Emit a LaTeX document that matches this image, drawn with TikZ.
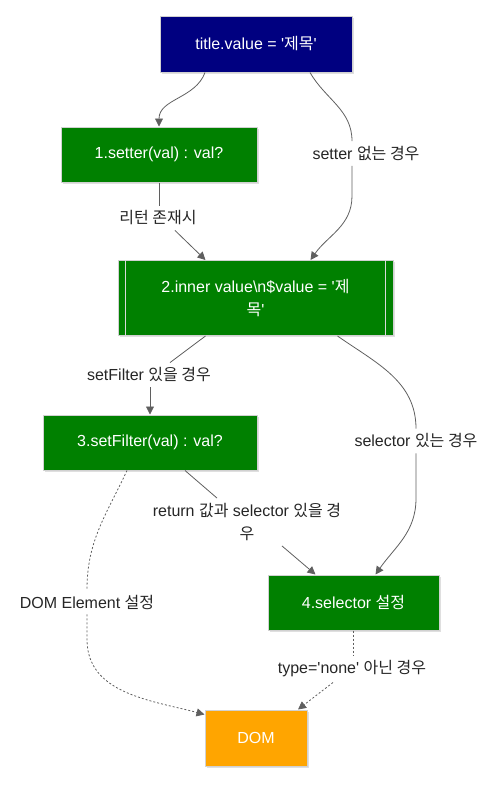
\documentclass[tikz,border=0pt]{standalone}
\usepackage{fontspec}
\setmainfont{Liberation Sans}[Ligatures=TeXOff]
\newfontfamily\kr{Noto Sans CJK KR}
\usetikzlibrary{arrows.meta}
\usetikzlibrary{shadows}
\definecolor{titleblue}{RGB}{0,0,128}
\definecolor{stepgreen}{RGB}{0,128,0}
\definecolor{domorange}{RGB}{255,165,0}
\definecolor{linkgray}{RGB}{95,95,95}

\begin{document}
\begin{tikzpicture}[x=1pt, y=1pt,
    every node/.style={font=\fontsize{16}{23}\selectfont},
    box/.style={draw=black!18, line width=1pt, text=white, minimum height=55pt,
      align=center, drop shadow={opacity=0.25, shadow xshift=1.5pt, shadow yshift=-1.5pt}},
    lbl/.style={fill=white, text=black!85, inner xsep=3pt, inner ysep=5pt, align=center},
    seg/.style={draw=linkgray, line width=0.8pt},
    link/.style={seg, -{Triangle[length=8pt, width=8pt]}},
    dotseg/.style={seg, dash pattern=on 2pt off 2pt},
    dotlink/.style={dotseg, -{Triangle[length=8pt, width=8pt]}}]
    \useasboundingbox (0, 0) rectangle (500, -785);

    \node[box, fill=titleblue, minimum width=192pt, minimum height=56pt] (title) at (256, -44) {title.value = '{\kr 제목}'};
    \node[box, fill=stepgreen, minimum width=196pt] (setter) at (159, -154.5) {1.setter(val) : val?};
    \node[box, fill=stepgreen, minimum width=275pt, minimum height=75pt] (inner) at (255.5, -298) {2.inner value\textbackslash n\$value = '{\kr 제}\\{\kr 목}'};
    \node[box, fill=stepgreen, minimum width=214pt] (filter) at (150, -442.5) {3.setFilter(val) : val?};
    \node[box, fill=stepgreen, minimum width=171pt] (selector) at (353.5, -602.5) {4.selector {\kr 설정}};
    \node[box, fill=domorange, minimum width=102pt, minimum height=56pt] (dom) at (256, -738) {DOM};

    \draw[black!15, line width=0.8pt] ([xshift=8]inner.north west) -- ([xshift=8]inner.south west);
    \draw[black!15, line width=0.8pt] ([xshift=-8]inner.north east) -- ([xshift=-8]inner.south east);

    \node[lbl] (lsetter) at (158, -218) {{\kr 리턴 존재시}};
    \node[lbl] (lnosetter) at (366, -153.5) {setter {\kr 없는 경우}};
    \node[lbl] (lfilter) at (149, -375) {setFilter {\kr 있을 경우}};
    \node[lbl] (lselector) at (416, -441) {selector {\kr 있는 경우}};
    \node[lbl] (lreturn) at (247, -522) {return {\kr 값과} selector {\kr 있을 경}\\{\kr 우}};
    \node[lbl] (ldom) at (87, -602) {DOM Element {\kr 설정}};
    \node[lbl] (ltype) at (352, -669) {type='none' {\kr 아닌 경우}};

    % title -> setter / inner
    \draw[link] ([xshift=-51]title.south) to[out=-110, in=90] (setter.north);
    \draw[seg] ([xshift=54]title.south) to[out=-60, in=90] ([xshift=-14]lnosetter.north);
    \draw[link] ([xshift=-14]lnosetter.south) -- ++(0, -30) to[out=-90, in=55] ([xshift=55]inner.north);

    % setter -> inner
    \draw[seg] (setter.south) -- (setter.south |- lsetter.north);
    \draw[link] ([xshift=17]lsetter.south) -- ([xshift=-50]inner.north);

    % inner -> filter / selector
    \draw[seg] ([xshift=-50]inner.south) -- ([xshift=21]lfilter.north);
    \draw[link] (filter.north |- lfilter.south) -- (filter.north);
    \draw[seg] ([xshift=82]inner.south) to[out=-35, in=90] (lselector.north);
    \draw[link] (lselector.south) -- ++(0, -45) to[out=-90, in=55] ([xshift=22]selector.north);

    % filter -> selector / dom
    \draw[seg] ([xshift=35]filter.south) -- ([xshift=-30]lreturn.north);
    \draw[link] ([xshift=35]lreturn.south) -- ([xshift=-38]selector.north);
    \draw[dotseg] ([xshift=-23]filter.south) to[out=-115, in=90] (ldom.north);
    \draw[dotlink] (ldom.south) -- ++(0, -25) to[out=-90, in=165] ([yshift=-5]dom.north west);

    % selector -> dom
    \draw[dotseg] (selector.south) -- (selector.south |- ltype.north);
    \draw[dotlink] ([xshift=-19]ltype.south) -- ([xshift=42]dom.north);
  \end{tikzpicture}
\end{document}
